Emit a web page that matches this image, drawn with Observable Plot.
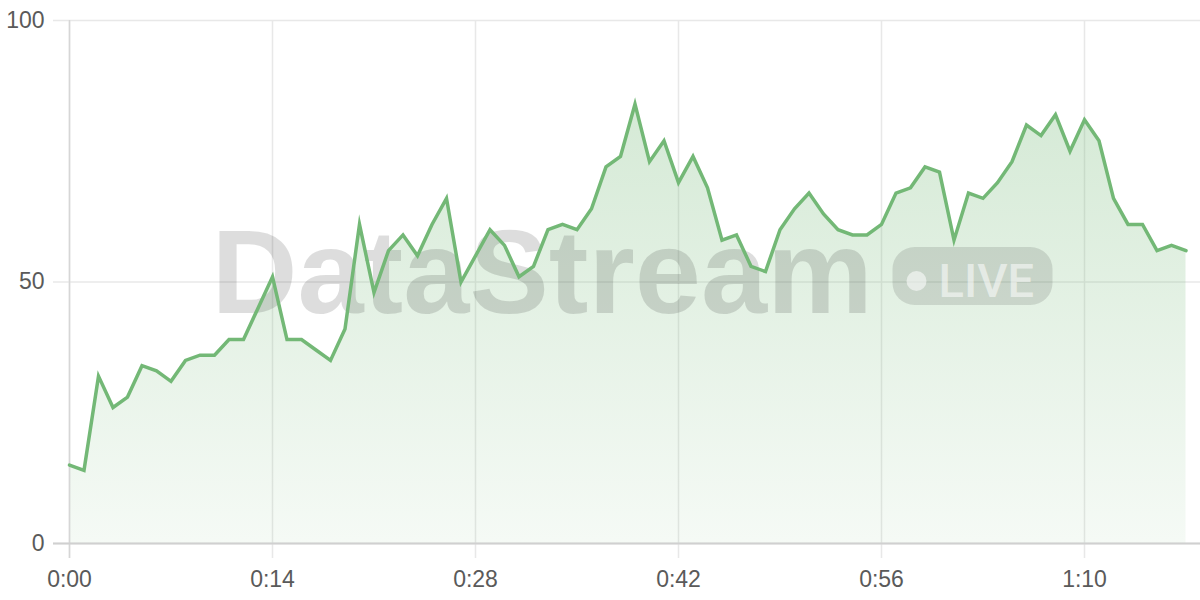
<!DOCTYPE html>
<html>
<head>
<meta charset="utf-8">
<script src="https://cdn.jsdelivr.net/npm/d3@7"></script>
<script src="https://cdn.jsdelivr.net/npm/@observablehq/plot@0.6"></script>
<style>
  html, body { margin: 0; padding: 0; background: #fff; }
  #chart { width: 1200px; height: 600px; }
</style>
</head>
<body>
<div id="chart"></div>
<script>
// Seconds since start (one sample per second)
const seconds = d3.range(0, 78);
// Values
const values = [
  15, 14, 32, 26, 28, 34, 33, 31, 35, 36,
  36, 39, 39, 45, 51, 39, 39, 37, 35, 41,
  61, 48, 56, 59, 55, 61, 66, 50, 55, 60,
  57, 51, 53, 60, 61, 60, 64, 72, 74, 84,
  73, 77, 69, 74, 68, 58, 59, 53, 52, 60,
  64, 67, 63, 60, 59, 59, 61, 67, 68, 72,
  71, 58, 67, 66, 69, 73, 80, 78, 82, 75,
  81, 77, 66, 61, 61, 56, 57, 56
];
const xTicks = [0, 14, 28, 42, 56, 70];
const yTicks = [0, 50, 100];
const xDomain = [0, 78];
const yDomain = [0, 100];
const watermarkTitle = "DataStream";
const watermarkBadge = "LIVE";

const data = seconds.map((s, i) => ({t: s, v: values[i]}));
const fmt = s => `${Math.floor(s / 60)}:${String(s % 60).padStart(2, "0")}`;

const green = "#73b876";

function defs() {
  const d = d3.create("svg:defs");
  const g = d.append("linearGradient").attr("id", "areaGrad")
    .attr("x1", 0).attr("y1", 0).attr("x2", 0).attr("y2", 1);
  g.append("stop").attr("offset", "0%").attr("stop-color", green).attr("stop-opacity", 0.30);
  g.append("stop").attr("offset", "100%").attr("stop-color", green).attr("stop-opacity", 0.07);
  return d.node();
}

function watermark(index, scales, values, dim) {
  const cx = (dim.marginLeft + dim.width - dim.marginRight) / 2;
  const g = d3.create("svg:g").attr("pointer-events", "none").attr("text-anchor", "start");
  const baseline = 313;
  g.append("text")
    .attr("x", cx - 423)
    .attr("y", baseline)
    .attr("text-anchor", "start")
    .attr("font-family", "Liberation Sans, Arial, sans-serif")
    .attr("font-weight", "bold")
    .attr("font-size", 119)
    .attr("letter-spacing", 0)
    .attr("fill", "#000")
    .attr("fill-opacity", 0.135)
    .text(watermarkTitle);
  const px = cx + 258, py = 247, pw = 160, ph = 58;
  g.append("rect").attr("x", px).attr("y", py).attr("width", pw).attr("height", ph)
    .attr("rx", 22).attr("fill", "#000").attr("fill-opacity", 0.115);
  g.append("circle").attr("cx", px + 24).attr("cy", py + 34).attr("r", 10)
    .attr("fill", "#fff").attr("fill-opacity", 0.55);
  g.append("text").attr("x", px + 46).attr("y", py + 50)
    .attr("text-anchor", "start")
    .attr("font-family", "Roboto, Liberation Sans, sans-serif")
    .attr("font-weight", 500)
    .attr("font-size", 47)
    .attr("fill", "#fff").attr("fill-opacity", 0.55)
    .text(watermarkBadge);
  return g.node();
}

const chart = Plot.plot({
  width: 1200,
  height: 600,
  marginLeft: 69,
  marginRight: 0,
  marginTop: 20,
  marginBottom: 57,
  style: {fontFamily: "Liberation Sans, Arial, sans-serif", fontSize: "23px", color: "#5a5a5a", background: "#fff"},
  x: {domain: xDomain},
  y: {domain: yDomain},
  marks: [
    defs,
    Plot.ruleY(yTicks, {stroke: "#e8e8e8", strokeWidth: 1.5, insetLeft: -16}),
    Plot.ruleX(xTicks, {stroke: "#e8e8e8", strokeWidth: 1.5, insetBottom: -15}),
    Plot.areaY(data, {x: "t", y: "v", fill: "url(#areaGrad)"}),
    watermark,
    Plot.ruleX([0], {stroke: "#d6d6d6", strokeWidth: 1.5, insetBottom: -15}),
    Plot.ruleY([0], {stroke: "#d0d0d0", strokeWidth: 2, insetLeft: -16}),
    Plot.lineY(data, {x: "t", y: "v", stroke: green, strokeWidth: 3.5, strokeLinejoin: "miter", strokeMiterlimit: 10}),
    Plot.axisX({ticks: xTicks, tickFormat: fmt, tickSize: 0, tickPadding: 27, label: null}),
    Plot.axisY({ticks: yTicks, tickSize: 0, tickPadding: 25, label: null})
  ]
});
document.getElementById("chart").appendChild(chart);
</script>
</body>
</html>
